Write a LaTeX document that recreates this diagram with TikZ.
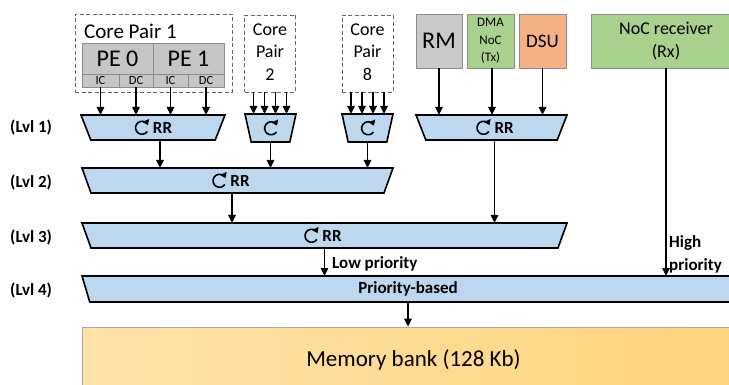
\documentclass[tikz,border=0pt]{standalone}
\usepackage{fontspec}
\setmainfont{Carlito}
\usetikzlibrary{shapes.geometric,arrows.meta}
\definecolor{trapblue}{HTML}{BDD7EE}
\definecolor{pegrey}{HTML}{C6C6C6}
\definecolor{boxborder}{HTML}{8C8C8C}
\definecolor{rmgrey}{HTML}{C9C9C9}
\definecolor{nocgreen}{HTML}{A9D18E}
\definecolor{dsuorange}{HTML}{F4B183}
\definecolor{memleft}{HTML}{FFE3AA}
\definecolor{memright}{HTML}{FFD47C}
\newcommand{\rricon}{\tikz[baseline=-5.5pt,x=1pt,y=1pt]{\draw[line width=1.6pt,-{Triangle[length=5pt,width=7pt]}] (-35:6.5) arc (-35:-335:6.5);}}
\newcommand{\fs}[1]{\fontsize{#1}{#1}\selectfont}
\begin{document}
\begin{tikzpicture}[x=1pt,y=-1pt,
  trap/.style={draw=black, line width=1.6pt, fill=trapblue, trapezium, shape border rotate=180,
    trapezium stretches body, minimum height=25pt, inner sep=0pt, outer sep=0pt,
    font=\fs{17}\bfseries},
  arr/.style={line width=1.6pt, -{Triangle[length=8pt,width=7.5pt]}},
  dbox/.style={draw=black!60, dashed, dash pattern=on 4pt off 2.5pt, line width=0.8pt, inner sep=0pt, outer sep=0pt},
  cell/.style={draw=boxborder, fill=pegrey, line width=0.8pt, inner sep=0pt, outer sep=0pt},
  unit/.style={draw=boxborder, line width=0.9pt, inner sep=0pt, outer sep=0pt, minimum height=54pt, align=center},
  lvl/.style={anchor=west, inner sep=0pt, font=\fs{17}\bfseries},
  lbl/.style={anchor=west, inner sep=0pt, font=\fs{17}\bfseries, align=left}]
\clip (0,0) rectangle (729,385);
\fill[white] (0,0) rectangle (729,385);

% core pair boxes
\node[dbox, minimum width=157pt, minimum height=78pt] (cp1) at (153.5,53) {};
\node[inner sep=0pt, anchor=west, font=\fs{21}] (cp1t) at (84,31) {Core Pair 1};
\node[cell, minimum width=71pt, minimum height=31pt, font=\fs{24}] (pe0) at (117.5,58.5) {PE 0};
\node[cell, minimum width=71pt, minimum height=31pt, font=\fs{24}] (pe1) at (188.5,58.5) {PE 1};
\node[cell, minimum width=37pt, minimum height=13pt, font=\fs{12.5}] (ic0) at (100.5,80.5) {IC};
\node[cell, minimum width=34pt, minimum height=13pt, font=\fs{12.5}] (dc0) at (136,80.5) {DC};
\node[cell, minimum width=35pt, minimum height=13pt, font=\fs{12.5}] (ic1) at (170.5,80.5) {IC};
\node[cell, minimum width=36pt, minimum height=13pt, font=\fs{12.5}] (dc1) at (206,80.5) {DC};

\node[dbox, minimum width=51pt, minimum height=77pt] (cp2) at (270,53.5) {};
\node[inner sep=0pt, align=center, font=\fontsize{18}{22.5}\selectfont] (cp2t) at (270,52) {Core\\Pair\\2};
\node[dbox, minimum width=51pt, minimum height=77pt] (cp8) at (367.5,53.5) {};
\node[inner sep=0pt, align=center, font=\fontsize{18}{22.5}\selectfont] (cp8t) at (367.5,52) {Core\\Pair\\8};

% units
\node[unit, fill=rmgrey, minimum width=46pt, font=\fs{24}] (rm) at (439,41) {RM};
\node[unit, fill=nocgreen, minimum width=47pt, font=\fontsize{13}{17.5}\selectfont] (dma) at (490.5,41) {DMA\\NoC\\(Tx)};
\node[unit, fill=dsuorange, minimum width=47pt, font=\fs{19}] (dsu) at (542.5,41) {DSU};
\node[unit, fill=nocgreen, minimum width=150pt, font=\fontsize{18}{23}\selectfont] (noc) at (666,41) {NoC receiver\\(Rx)};

% arbiters
\node[trap, minimum width=144pt, trapezium angle=60] (t1) at (153,127.5) {\rricon\hspace{4pt}RR};
\node[trap, minimum width=51pt, minimum height=28pt, trapezium angle=70] (t2) at (270.5,128) {\rricon};
\node[trap, minimum width=51pt, minimum height=28pt, trapezium angle=70] (t8) at (367.5,128) {\rricon};
\node[trap, minimum width=151pt, trapezium angle=60] (tr) at (491.5,127.5) {\hspace*{6pt}\rricon\hspace{4pt}RR};
\node[trap, minimum width=311pt, trapezium angle=62] (l2) at (237.5,180.5) {\hspace*{-14pt}\rricon\hspace{4pt}RR};
\node[trap, minimum width=485pt, trapezium angle=62] (l3) at (324.5,235.5) {\hspace*{-4pt}\rricon\hspace{4pt}RR};
\node[trap, minimum width=658pt, minimum height=26pt, trapezium angle=62] (l4) at (411,289) {\hspace*{-6pt}Priority-based};

% memory
\node[draw=black!35, line width=0.8pt, left color=memleft, right color=memright, minimum width=663pt, minimum height=66pt, inner sep=0pt, font=\fs{23}] (mem) at (413.5,360) {\raisebox{3pt}{Memory bank (128 Kb)}};

% level labels
\node[lvl] (lv1) at (10,127) {(Lvl 1)};
\node[lvl] (lv2) at (10,182) {(Lvl 2)};
\node[lvl] (lv3) at (10,237) {(Lvl 3)};
\node[lvl] (lv4) at (10,290) {(Lvl 4)};

% connectors level 1 inputs
\foreach \c in {ic0,dc0,ic1,dc1}
  \draw[arr] (\c.south) -- (\c.south |- t1.north);
\foreach \s in {-16.5,-5.5,5.5,16.5} {
  \draw[arr] ([xshift=\s pt]cp2.south) -- ([xshift=\s pt]cp2.south |- t2.north);
  \draw[arr] ([xshift=\s pt]cp8.south) -- ([xshift=\s pt]cp8.south |- t8.north);
}
\draw[arr] (rm.south) -- (rm.south |- tr.north);
\draw[arr] ([xshift=1.5pt]dma.south) -- ([xshift=1.5pt]dma.south |- tr.north);
\draw[arr] (dsu.south) -- (dsu.south |- tr.north);

% level 1 -> 2
\draw[arr] ([xshift=7pt]t1.south) -- ([xshift=7pt]t1.south |- l2.north);
\draw[arr] (t2.south) -- (t2.south |- l2.north);
\draw[arr] (t8.south) -- (t8.south |- l2.north);
% level 1 right -> 3
\draw[arr] ([xshift=3pt]tr.south) -- ([xshift=3pt]tr.south |- l3.north);
% level 2 -> 3
\draw[arr] ([xshift=-5.5pt]l2.south) -- ([xshift=-5.5pt]l2.south |- l3.north);
% level 3 -> 4
\draw[arr] (l3.south) -- (l3.south |- l4.north);
\node[lbl] (lowp) at (332,264) {Low priority};
% NoC -> 4
\draw[arr] (noc.south) -- (noc.south |- l4.north);
\node[lbl, font=\fontsize{17}{23}\selectfont\bfseries] (highp) at (669,254) {High\\priority};
% level 4 -> memory
\draw[arr] ([xshift=-3pt]l4.south) -- ([xshift=-3pt]l4.south |- mem.north);
\end{tikzpicture}
\end{document}
